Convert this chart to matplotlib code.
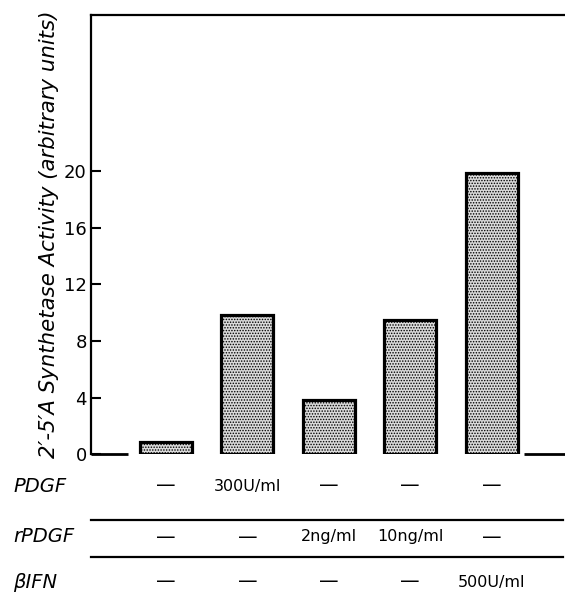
import matplotlib
matplotlib.use("Agg")
import matplotlib.pyplot as plt
import matplotlib.transforms as mtransforms
import numpy as np

# ---- data ----
activity = [0.87, 9.8, 3.85, 9.5, 19.85]
yticks = [0, 4, 8, 12, 16, 20]
row_names = ["PDGF", "rPDGF", "βIFN"]
pdgf = ["—", "300U/ml", "—", "—", "—"]
rpdgf = ["—", "—", "2ng/ml", "10ng/ml", "—"]
bifn = ["—", "—", "—", "—", "500U/ml"]
ylabel = "2′-5′A Synthetase Activity (arbitrary units)"

plt.rcParams['font.family'] = ['DejaVu Sans']
plt.rcParams['hatch.linewidth'] = 0.7

W, H = 565, 596
fig = plt.figure(figsize=(W / 100, H / 100), dpi=100)
ax = fig.add_axes([91 / W, (596 - 454.3) / H, (565 - 91) / W, (454.3 - 15) / H])

x = np.arange(len(activity))
width = 0.64
ax.bar(x, activity, width=width, facecolor='#dadada', edgecolor='black',
       linewidth=2.3, hatch='......', zorder=3)

ax.set_xlim(-0.919, 4.90)
ax.set_ylim(0, 31.0)

# baseline only outside the bars
ax.hlines(0, ax.get_xlim()[0], x[0] - width / 2 - 0.14, color='black', lw=2, clip_on=False)
ax.hlines(0, x[-1] + width / 2 + 0.08, ax.get_xlim()[1], color='black', lw=2, clip_on=False)

for s in ['right', 'bottom']:
    ax.spines[s].set_visible(False)
ax.spines['left'].set_linewidth(1.6)
ax.spines['top'].set_linewidth(1.6)

ax.set_xticks([])
ax.set_yticks(yticks)
ax.set_yticklabels([str(t) for t in yticks], fontsize=13)
ax.tick_params(axis='y', direction='in', length=7, width=1.5, pad=3)

ax.set_ylabel(ylabel, fontsize=15.3, style='italic')
ax.yaxis.set_label_coords(-0.068, 0.50)

# ---- condition table below the axes ----
trans = mtransforms.blended_transform_factory(ax.transData, fig.transFigure)
row_y = [(596 - 486) / H, (596 - 537) / H, (596 - 582) / H]
rows = [pdgf, rpdgf, bifn]
for name, vals, yy in zip(row_names, rows, row_y):
    fig.text(13 / W, yy, name, fontsize=14, style='italic', ha='left', va='center')
    for xi, v in zip(x, vals):
        fs = 14 if v == "—" else 11.5
        ax.text(xi, yy, v, transform=trans, fontsize=fs, ha='center', va='center',
                clip_on=False)

for ly in [(596 - 520) / H, (596 - 557) / H]:
    fig.add_artist(plt.Line2D([91 / W, 563 / W], [ly, ly], color='black', lw=1.6))

fig.savefig("out.png", dpi=100)
